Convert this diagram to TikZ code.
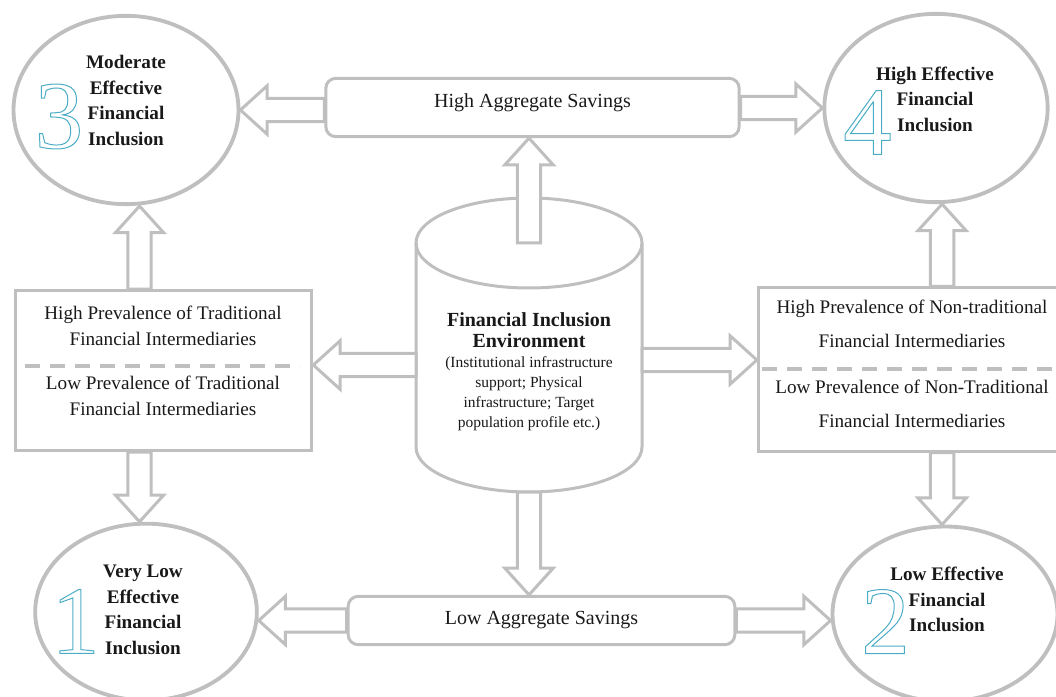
\documentclass[tikz,border=0pt]{standalone}
\usepackage{fontspec}
\setmainfont{Liberation Serif}
\usetikzlibrary{shapes.geometric,calc}
\definecolor{linegray}{RGB}{191,191,191}
\definecolor{digitblue}{RGB}{75,172,198}
\definecolor{textblack}{RGB}{25,25,25}
\newcommand{\outlined}[1]{\special{pdf:literal direct 1 Tr 0.6 w}#1\special{pdf:literal direct 0 Tr}}
\newcommand{\hollowarrow}[2]{%
  \draw[blockarrow] let \p1=(#1), \p2=(#2),
      \n1={atan2(\y2-\y1,\x2-\x1)}, \n2={veclen(\x2-\x1,\y2-\y1)} in
    [shift={(\p1)}, rotate=\n1]
    (0pt,-7pt) -- ({(\n2-16)*1pt},-7pt) -- ({(\n2-16)*1pt},-14.5pt)
    -- ({\n2*1pt},0pt) -- ({(\n2-16)*1pt},14.5pt) -- ({(\n2-16)*1pt},7pt)
    -- (0pt,7pt) -- cycle;}
\begin{document}
\begin{tikzpicture}[x=0.6pt, y=-0.6pt, text=textblack,
    shapeline/.style={draw=linegray, line width=1.8pt},
    outcome/.style={ellipse, draw=linegray, line width=2.3pt, inner sep=0pt},
    savebox/.style={rectangle, rounded corners=6pt, shapeline, font=\fontsize{12}{14}\selectfont},
    interbox/.style={rectangle, shapeline},
    blockarrow/.style={draw=linegray, line width=1.8pt, fill=white, line join=miter},
    divider/.style={draw=linegray, line width=2.4pt, dash pattern=on 9pt off 6pt},
    casetext/.style={font=\bfseries\fontsize{11.5}{15.3}\selectfont, align=center},
    boxtext/.style={font=\fontsize{11.5}{15.6}\selectfont, align=center},
    number/.style={font=\fontsize{58}{58}\selectfont, inner sep=0pt, text=digitblue}]
    \useasboundingbox (0,0) rectangle (1056,697);
    \clip (0,0) rectangle (1056,697);

    % outcomes
    \node[outcome, minimum width=135pt, minimum height=113pt] (m3) at (126,110) {};
    \node[outcome, minimum width=134pt, minimum height=113pt] (m4) at (936,108) {};
    \node[outcome, minimum width=133pt, minimum height=106pt] (m1) at (146,612) {};
    \node[outcome, minimum width=135pt, minimum height=105pt] (m2) at (945,614) {};
    \node[number] (d3) at (59,116.5) {\outlined{3}};
    \node[number] (d4) at (867.5,122.5) {\outlined{4}};
    \node[number] (d1) at (75.5,621.5) {\outlined{1}};
    \node[number] (d2) at (885.5,621.5) {\outlined{2}};
    \node[casetext] (m3text) at (126,100.5) {Moderate\\Effective\\Financial\\Inclusion};
    \node[casetext] (m4text) at (935,99) {High Effective\\Financial\\Inclusion};
    \node[casetext] (m1text) at (143,610) {Very Low\\Effective\\Financial\\Inclusion};
    \node[casetext] (m2text) at (947,599.5) {Low Effective\\Financial\\Inclusion};

    % savings
    \node[savebox, minimum width=248pt, minimum height=35pt, text depth=8pt] (high) at (532.5,107.5) {High Aggregate Savings};
    \node[savebox, minimum width=232pt, minimum height=29pt] (low) at (541.5,620.5) {Low Aggregate Savings};

    % intermediaries
    \node[interbox, minimum width=178pt, minimum height=96pt] (trad) at (163.5,370.5) {};
    \node[boxtext] (tradhi) at (163,325.5) {High Prevalence of Traditional\\Financial Intermediaries};
    \node[boxtext] (tradlo) at (163,396) {Low Prevalence of Traditional\\Financial Intermediaries};
    \draw[divider] (25,366) -- (300,366);
    \node[interbox, minimum width=185pt, minimum height=98pt] (nontrad) at (912.5,369.5) {};
    \node[boxtext, font=\fontsize{11.5}{20.4}\selectfont] (ntradhi) at (912,324) {High Prevalence of Non-traditional\\Financial Intermediaries};
    \node[boxtext, font=\fontsize{11.5}{20.4}\selectfont] (ntradlo) at (912,404) {Low Prevalence of Non-Traditional\\Financial Intermediaries};
    \draw[divider] (762,369) -- (1056,369);

    % environment
    \draw[shapeline] (529,243) ellipse [x radius=113, y radius=45];
    \draw[shapeline] (416,243) -- (416,447) arc[start angle=180, end angle=0, x radius=113, y radius=45] -- (642,243);
    \coordinate (cyltop) at (529,243);
    \coordinate (cylbot) at (529,492);
    \coordinate (cylwest) at (416,365);
    \coordinate (cyleast) at (642,360);
    \node[font=\bfseries\fontsize{12}{12.6}\selectfont, align=center] (envtitle) at (529,330) {Financial Inclusion\\Environment};
    \node[font=\fontsize{9.3}{12}\selectfont, align=center] (envnote) at (529,394) {(Institutional infrastructure\\support; Physical\\infrastructure; Target\\population profile etc.)};

    \coordinate (tradup) at ($(trad.north west)!0.42!(trad.north east)$);
    \coordinate (traddown) at ($(trad.south west)!0.42!(trad.south east)$);
    \coordinate (ntradup) at ($(nontrad.north west)!0.595!(nontrad.north east)$);
    \coordinate (ntraddown) at ($(nontrad.south west)!0.595!(nontrad.south east)$);

    \hollowarrow{high.west |- m3.east}{m3.east}
    \hollowarrow{high.east |- m4.west}{m4.west}
    \hollowarrow{cyltop}{cyltop |- high.south}
    \hollowarrow{cylwest}{cylwest -| trad.east}
    \hollowarrow{cyleast}{cyleast -| nontrad.west}
    \hollowarrow{cylbot}{cylbot |- low.north}
    \hollowarrow{tradup}{tradup |- m3.south}
    \hollowarrow{traddown}{traddown |- m1.north}
    \hollowarrow{ntradup}{ntradup |- m4.south}
    \hollowarrow{ntraddown}{ntraddown |- m2.north}
    \hollowarrow{low.west}{low.west -| m1.east}
    \hollowarrow{low.east}{low.east -| m2.west}
\end{tikzpicture}
\end{document}
